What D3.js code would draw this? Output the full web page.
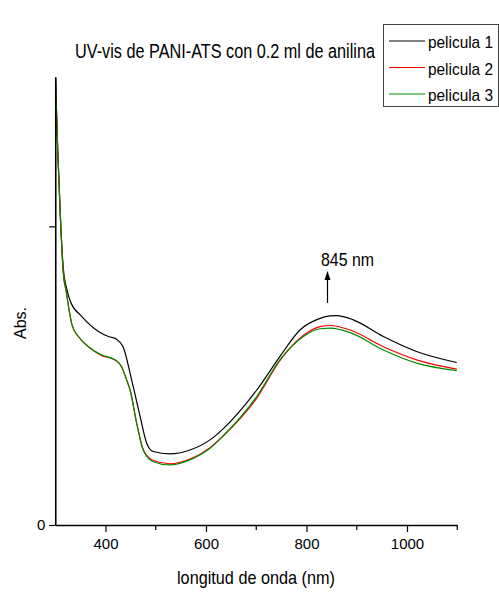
<!DOCTYPE html>
<html><head><meta charset="utf-8">
<script src="https://cdn.jsdelivr.net/npm/d3@7"></script>
<style>body{margin:0;background:#fff}svg{display:block}</style>
</head><body><div id="chart"></div>
<script>
const seriesNames = ["pelicula 1", "pelicula 2", "pelicula 3"];
const seriesColors = ["#000000", "#ff0000", "#008c00"];
const xTickValues = [400, 600, 800, 1000];
const xMinorTicks = [500, 700, 900, 1100];
const yTickValues = [0, 1];
const yTickLabels = ["0", ""];

const wl1 = [300,305,311,316,323,331,353,386,406,422,435,452,469,482,495,528,568,608,634,701,747,787,827,847,860,893,953,1019,1099];
const ab1 = [1.52,1.25,1.0,0.86,0.79,0.745,0.698,0.648,0.631,0.622,0.597,0.486,0.363,0.274,0.246,0.238,0.251,0.285,0.322,0.452,0.564,0.653,0.692,0.700,0.701,0.687,0.631,0.581,0.544];

const wl2 = [300,305,311,316,322,327,333,346,366,392,419,432,442,449,462,475,495,528,568,608,634,701,747,794,827,847,887,953,1019,1099];
const ab2 = [1.52,1.25,1.0,0.845,0.78,0.725,0.672,0.631,0.597,0.568,0.552,0.530,0.486,0.452,0.341,0.253,0.216,0.205,0.221,0.259,0.298,0.425,0.550,0.635,0.664,0.668,0.653,0.597,0.553,0.522];

const wl3 = [300,305,311,316,322,327,333,346,366,392,419,432,442,449,462,475,495,528,568,608,634,701,747,794,827,847,887,953,1019,1099];
const ab3 = [1.52,1.25,1.0,0.845,0.78,0.725,0.672,0.631,0.597,0.570,0.553,0.530,0.486,0.452,0.341,0.251,0.212,0.201,0.218,0.257,0.298,0.430,0.553,0.631,0.657,0.659,0.644,0.586,0.542,0.517];

const seriesWl = [wl1, wl2, wl3];
const seriesAb = [ab1, ab2, ab3];

const W = 499, H = 593;
const svg = d3.select("#chart").append("svg").attr("width", W).attr("height", H);
const FONT = "'Liberation Sans Narrow','Arial Narrow','Liberation Sans',Arial,sans-serif";

const x = d3.scaleLinear().domain([300, 1100]).range([55.25, 457.25]);
const y = d3.scaleLinear().domain([0, 1.5]).range([525, 77]);

svg.append("defs").append("clipPath").attr("id", "clip")
  .append("rect").attr("x", 55).attr("y", 77).attr("width", 405).attr("height", 448);

const line = d3.line().x(d => x(d[0])).y(d => y(d[1])).curve(d3.curveMonotoneX);
const g = svg.append("g").attr("clip-path", "url(#clip)");
seriesNames.forEach((n, i) => {
  const pts = seriesWl[i].map((w, k) => [w, seriesAb[i][k]]);
  g.append("path").datum(pts).attr("d", line)
    .attr("fill", "none").attr("stroke", seriesColors[i]).attr("stroke-width", 1.2);
});

// X axis
const xAxis = svg.append("g").attr("transform", "translate(0,525)");
xAxis.call(d3.axisBottom(x).tickValues(xTickValues).tickFormat(d3.format("d")).tickSize(7).tickSizeOuter(0).tickPadding(6));
xAxis.append("g").selectAll("line").data(xMinorTicks).join("line")
  .attr("x1", d => x(d)).attr("x2", d => x(d)).attr("y1", 0).attr("y2", 5)
  .attr("stroke", "#000").attr("stroke-width", 1.2);
xAxis.select(".domain").attr("stroke-width", 1.6);
xAxis.selectAll(".tick line").attr("stroke-width", 1.2);
xAxis.selectAll("text").attr("font-family", FONT).attr("font-size", 15).attr("fill", "#000");

// Y axis
const yAxis = svg.append("g").attr("transform", "translate(55.25,0)");
yAxis.call(d3.axisLeft(y).tickValues(yTickValues).tickFormat((d, i) => yTickLabels[i]).tickSize(6).tickSizeOuter(0).tickPadding(4));
yAxis.select(".domain").attr("stroke-width", 1.6);
yAxis.selectAll(".tick line").attr("stroke-width", 1.2);
yAxis.selectAll("text").attr("font-family", FONT).attr("font-size", 15).attr("fill", "#000");

// Axis labels
svg.append("text").attr("x", 256).attr("y", 584).attr("text-anchor", "middle")
  .attr("font-family", FONT).attr("font-size", 19).attr("textLength", 158).attr("lengthAdjust", "spacingAndGlyphs")
  .text("longitud de onda (nm)");
svg.append("text").attr("transform", "translate(26,323) rotate(-90)").attr("text-anchor", "middle")
  .attr("font-family", FONT).attr("font-size", 16)
  .text("Abs.");

// Title
svg.append("text").attr("x", 75).attr("y", 58).attr("font-family", FONT).attr("font-size", 20)
  .attr("textLength", 300).attr("lengthAdjust", "spacingAndGlyphs")
  .text("UV-vis de PANI-ATS con 0.2 ml de anilina");

// Annotation
svg.append("text").attr("x", 321).attr("y", 266).attr("font-family", FONT).attr("font-size", 19)
  .attr("textLength", 53).attr("lengthAdjust", "spacingAndGlyphs").text("845 nm");
svg.append("line").attr("x1", 327.5).attr("x2", 327.5).attr("y1", 303).attr("y2", 278)
  .attr("stroke", "#000").attr("stroke-width", 1.2);
svg.append("path").attr("d", "M327.5,271 L324.5,280 L330.5,280 Z").attr("fill", "#000");

// Legend
const lg = svg.append("g");
lg.append("rect").attr("x", 383.5).attr("y", 24.5).attr("width", 115).attr("height", 82)
  .attr("fill", "#fff").attr("stroke", "#444").attr("stroke-width", 1);
const rowY = [41, 67.5, 94];
seriesNames.forEach((n, i) => {
  lg.append("line").attr("x1", 389).attr("x2", 425).attr("y1", rowY[i]).attr("y2", rowY[i])
    .attr("stroke", seriesColors[i]).attr("stroke-width", 1.2);
  lg.append("text").attr("x", 428).attr("y", rowY[i] + 7).attr("font-family", FONT).attr("font-size", 17)
    .attr("textLength", 65).attr("lengthAdjust", "spacingAndGlyphs").text(n);
});
</script></body></html>
